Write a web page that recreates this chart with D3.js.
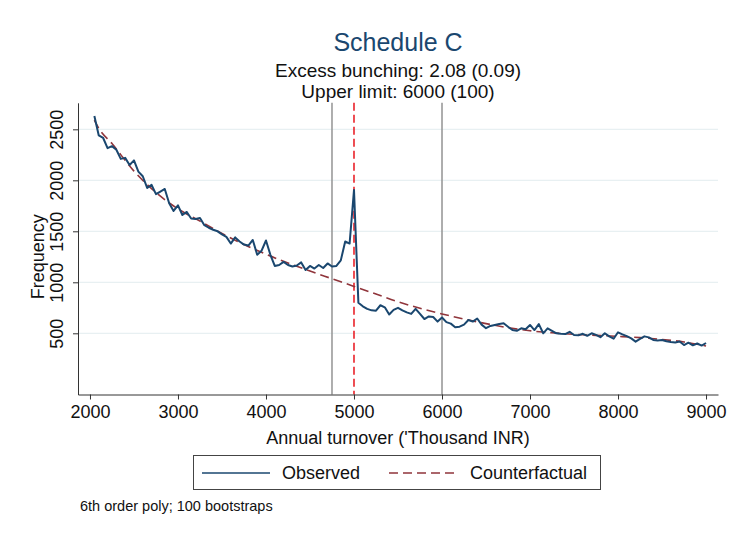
<!DOCTYPE html>
<html>
<head>
<meta charset="utf-8">
<script src="https://cdn.jsdelivr.net/npm/d3@7"></script>
<style>
  body { margin: 0; background: #fff; }
  svg { font-family: "Liberation Sans", Arial, sans-serif; }
</style>
</head>
<body>
<div class="container"></div>
<script>
// bins of 50 ('Thousand INR), 2050 .. 9000
var bins = d3.range(2050, 9001, 50);

// observed frequency per bin
var observed = [
  2630, 2440, 2415, 2315, 2335, 2300, 2210, 2220, 2150, 2195,
  2085, 2040, 1925, 1955, 1865, 1890, 1915, 1775, 1700, 1755,
  1660, 1690, 1625, 1620, 1630, 1560, 1535, 1515,
  1500, 1470, 1445, 1380, 1440, 1400, 1370, 1360, 1415, 1270,
  1310, 1410, 1270, 1160, 1170, 1200, 1170, 1155, 1165, 1195,
  1120, 1160, 1135, 1170, 1140, 1185, 1155, 1160, 1215,
  1400, 1380, 1905,
  800, 765, 740, 725, 722, 775, 755, 685, 730, 750,
  725, 705, 690, 740, 690, 640, 665, 660, 615, 655,
  610, 595, 560, 565, 585, 630, 615, 645, 585, 550,
  572, 582, 592, 598, 565, 532, 525, 549, 540, 582,
  532, 590, 500, 549, 525, 500, 495, 493, 515, 483,
  480, 495, 475, 500, 485, 462, 500, 470, 447, 510,
  490, 472, 450, 418, 445, 470, 460, 435, 430, 435,
  422, 415, 410, 420, 385, 408, 382, 400, 380, 405
];

// counterfactual (6th order poly fit), read at every 250
var cfX = [2050, 2100, 2250, 2500, 2750, 3000, 3250, 3500, 3750, 4000,
           4250, 4500, 4750, 5000, 5250, 5500, 5750, 6000, 6250, 6500,
           6750, 7000, 7250, 7500, 7750, 8000, 8250, 8500, 8750, 9000];
var cfY = [2590, 2510, 2360, 2090, 1880, 1720, 1600, 1480, 1370, 1275,
           1190, 1110, 1035, 960, 885, 810, 745, 690, 640, 595,
           555, 525, 505, 490, 480, 470, 458, 440, 415, 375];

var xTicks = [2000, 3000, 4000, 5000, 6000, 7000, 8000, 9000];
var yTicks = [500, 1000, 1500, 2000, 2500];
var lowerLimit = 4750, threshold = 5000, upperLimit = 6000;

var W = 730, H = 533;
var svg = d3.select('.container').append('svg')
    .attr('width', W).attr('height', H);

var x = d3.scaleLinear().domain([1864, 9136]).range([78, 718]);
var y = d3.scaleLinear().domain([-100, 2760]).range([394.5, 102.8]);

// grid
svg.append('g').selectAll('line').data(yTicks).enter().append('line')
    .attr('x1', 78).attr('x2', 718)
    .attr('y1', function(d) { return y(d); })
    .attr('y2', function(d) { return y(d); })
    .style('stroke', '#e8f0f2').style('stroke-width', 1.2);

// vertical reference lines
svg.append('g').selectAll('line').data([lowerLimit, upperLimit]).enter().append('line')
    .attr('x1', function(d) { return x(d); })
    .attr('x2', function(d) { return x(d); })
    .attr('y1', y(2760)).attr('y2', y(-100))
    .style('stroke', '#939393').style('stroke-width', 1.5);

svg.append('line')
    .attr('x1', x(threshold)).attr('x2', x(threshold))
    .attr('y1', y(2760)).attr('y2', y(-100))
    .style('stroke', '#e8141c').style('stroke-width', 1.5)
    .style('stroke-dasharray', '8,4');

// counterfactual
svg.append('path')
    .datum(d3.zip(cfX, cfY))
    .attr('d', d3.line()
      .x(function(d) { return x(d[0]); })
      .y(function(d) { return y(d[1]); })
      .curve(d3.curveMonotoneX))
    .style('fill', 'none').style('stroke', '#90353b')
    .style('stroke-width', 1.6).style('stroke-dasharray', '9,5');

// observed
svg.append('path')
    .datum(d3.zip(bins, observed))
    .attr('d', d3.line()
      .x(function(d) { return x(d[0]); })
      .y(function(d) { return y(d[1]); }))
    .style('fill', 'none').style('stroke', '#1a476f')
    .style('stroke-width', 2).style('stroke-linejoin', 'round');

// axes
var xAxis = svg.append('g').attr('transform', 'translate(0,' + y(-100) + ')')
    .call(d3.axisBottom(x).tickValues(xTicks).tickFormat(d3.format('d'))
      .tickSize(5).tickSizeOuter(0).tickPadding(6));
xAxis.select('.domain').style('stroke', '#333');
xAxis.selectAll('.tick line').style('stroke', '#333');
xAxis.selectAll('text').style('font-size', '18px').style('fill', '#111')
    .style('font-family', '"Liberation Sans", Arial, sans-serif');

var yAxis = svg.append('g').attr('transform', 'translate(78,0)')
    .call(d3.axisLeft(y).tickValues(yTicks).tickFormat(d3.format('d'))
      .tickSize(5).tickSizeOuter(0));
yAxis.select('.domain').style('stroke', '#333');
yAxis.selectAll('.tick line').style('stroke', '#333');
yAxis.selectAll('text')
    .attr('x', null).attr('dy', null)
    .attr('transform', 'translate(-15,0) rotate(-90)')
    .style('text-anchor', 'middle')
    .style('font-size', '18px').style('fill', '#111')
    .style('font-family', '"Liberation Sans", Arial, sans-serif');

// titles
svg.append('text').attr('x', 398).attr('y', 51).attr('text-anchor', 'middle')
    .style('font-size', '25px').style('fill', '#1a476f').text('Schedule C');
svg.append('text').attr('x', 398).attr('y', 77).attr('text-anchor', 'middle')
    .style('font-size', '19px').style('fill', '#111').text('Excess bunching: 2.08 (0.09)');
svg.append('text').attr('x', 398).attr('y', 98).attr('text-anchor', 'middle')
    .style('font-size', '19px').style('fill', '#111').text('Upper limit: 6000 (100)');

svg.append('text').attr('x', 398).attr('y', 444).attr('text-anchor', 'middle')
    .style('font-size', '18px').style('fill', '#111').text("Annual turnover ('Thousand INR)");
svg.append('text').attr('transform', 'translate(44,' + y(1250) + ') rotate(-90)')
    .attr('text-anchor', 'middle')
    .style('font-size', '18px').style('fill', '#111').text('Frequency');

// legend
var legend = svg.append('g');
legend.append('rect').attr('x', 193.5).attr('y', 455.5).attr('width', 407).attr('height', 34)
    .style('fill', '#fff').style('stroke', '#444').style('stroke-width', 1);
legend.append('line').attr('x1', 202).attr('x2', 270).attr('y1', 473).attr('y2', 473)
    .style('stroke', '#1a476f').style('stroke-width', 1.6);
legend.append('text').attr('x', 282).attr('y', 479)
    .style('font-size', '18px').style('fill', '#111').text('Observed');
legend.append('line').attr('x1', 389).attr('x2', 459).attr('y1', 473).attr('y2', 473)
    .style('stroke', '#90353b').style('stroke-width', 1.6).style('stroke-dasharray', '9,5');
legend.append('text').attr('x', 470).attr('y', 479)
    .style('font-size', '18px').style('fill', '#111').text('Counterfactual');

svg.append('text').attr('x', 80).attr('y', 511)
    .style('font-size', '14.5px').style('fill', '#111').text('6th order poly; 100 bootstraps');
</script>
</body>
</html>
